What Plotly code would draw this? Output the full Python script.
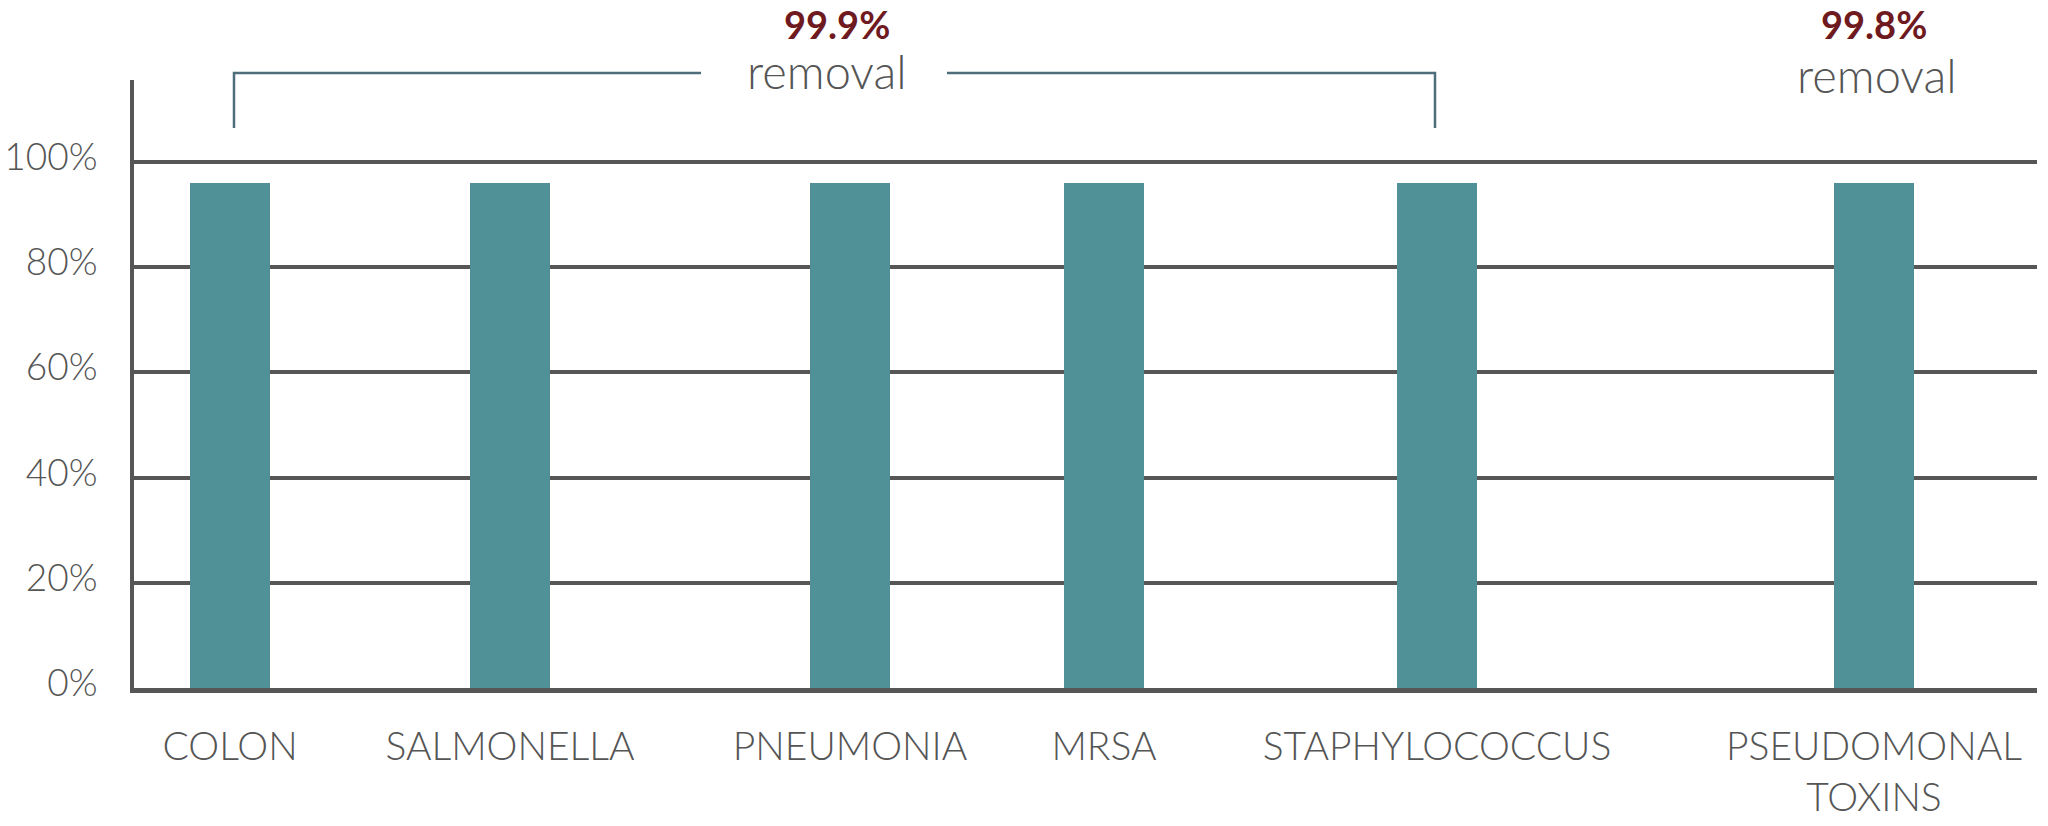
import plotly.graph_objects as go

# ---- data ----
categories = ["COLON", "SALMONELLA", "PNEUMONIA", "MRSA", "STAPHYLOCOCCUS", "PSEUDOMONAL<br>TOXINS"]
values = [96, 96, 96, 96, 96, 96]
y_tick_vals = [0, 20, 40, 60, 80, 100]
y_tick_text = ["0%", "20%", "40%", "60%", "80%", "100%"]
group_label_1 = "99.9%"
group_label_2 = "99.8%"
removal_text = "removal"

# ---- layout helpers (positions / styles) ----
x_positions = [96, 376, 716, 970, 1303, 1740]
bar_width = 80
W, H = 2048, 826
M_L, M_R, M_T, M_B = 134, 11, 80, 138
plot_h = H - M_T - M_B
x_range = [0, W - M_L - M_R]
y_range = [0, 115.6]

def py(pix):
    """convert a page pixel y to paper coordinate"""
    return (H - M_B - pix) / plot_h

GRAY = "#565656"
TEXT = "#555555"
BAR = "#4F9196"
BRACKET = "#4D6E7A"
RED = "#6E1A1F"
FONT = "Lato"

fig = go.Figure()
fig.add_trace(go.Bar(
    x=x_positions, y=values, width=bar_width,
    marker=dict(color=BAR, line=dict(width=0)),
    hoverinfo="skip", showlegend=False,
))

# bracket over first five groups
x_left = x_positions[0] + 4
x_right = x_positions[4] - 2
gap_l, gap_r = 567, 813
y_top = py(73)
y_bot = py(128)
line_style = dict(color=BRACKET, width=2.5)
fig.add_shape(type="path", xref="x", yref="paper",
              path=f"M {x_left},{y_bot} L {x_left},{y_top} L {gap_l},{y_top}",
              line=line_style)
fig.add_shape(type="path", xref="x", yref="paper",
              path=f"M {gap_r},{y_top} L {x_right},{y_top} L {x_right},{y_bot}",
              line=line_style)

fig.add_annotation(x=703, y=py(24), xref="x", yref="paper", text=f"<b>{group_label_1}</b>",
                   showarrow=False, font=dict(family=FONT, size=38, color=RED),
                   xanchor="center", yanchor="middle")
fig.add_annotation(x=693, y=py(71), xref="x", yref="paper", text=removal_text,
                   showarrow=False, font=dict(family=FONT, size=47, color=TEXT, weight=300),
                   xanchor="center", yanchor="middle")
fig.add_annotation(x=x_positions[5], y=py(24), xref="x", yref="paper", text=f"<b>{group_label_2}</b>",
                   showarrow=False, font=dict(family=FONT, size=38, color=RED),
                   xanchor="center", yanchor="middle")
fig.add_annotation(x=x_positions[5] + 3, y=py(75), xref="x", yref="paper", text=removal_text,
                   showarrow=False, font=dict(family=FONT, size=47, color=TEXT, weight=300),
                   xanchor="center", yanchor="middle")

fig.update_layout(
    width=W, height=H,
    margin=dict(l=M_L, r=M_R, t=M_T, b=M_B, pad=0, autoexpand=False),
    paper_bgcolor="white", plot_bgcolor="white",
    font=dict(family=FONT, size=39, color=TEXT, weight=300),
    bargap=0,
    xaxis=dict(range=x_range, tickvals=x_positions, ticktext=categories,
               showgrid=False, zeroline=False, showline=True, linewidth=5, linecolor=GRAY,
               ticks="", ticklabelstandoff=20, fixedrange=True, automargin=False,
               tickfont=dict(family=FONT, size=39, color=TEXT, weight=300)),
    yaxis=dict(range=y_range, tickvals=y_tick_vals, ticktext=y_tick_text,
               showgrid=True, gridwidth=4, gridcolor=GRAY, zeroline=False,
               showline=True, linewidth=4, linecolor=GRAY,
               ticks="", ticklabelstandoff=25, ticklabelshift=-5, fixedrange=True, automargin=False,
               tickfont=dict(family=FONT, size=37, color=TEXT, weight=300)),
)

fig.write_html("out.html", config={"displayModeBar": False})
